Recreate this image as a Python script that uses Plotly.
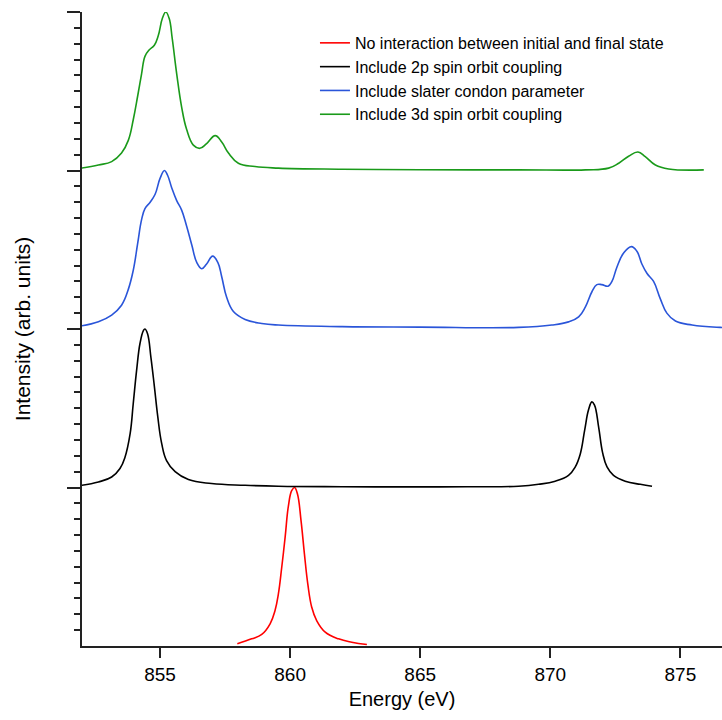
import plotly.graph_objects as go

# ---- data (energy in eV, intensity relative to each curve's own baseline) ----
names = [
    "No interaction between initial and final state",
    "Include 2p spin orbit coupling",
    "Include slater condon parameter",
    "Include 3d spin orbit coupling",
]
offsets = [0, 1, 2, 3]
colors = ["#ff0000", "#000000", "#2a55d9", "#1a9a1a"]

red_e = [857.97, 858.52, 858.91, 859.23, 859.42, 859.55, 859.68, 859.81, 859.93, 860.06, 860.17,
         860.28, 860.42, 860.55, 860.68, 860.83, 861.02, 861.35, 861.86, 862.37, 862.95]
red_i = [0.014, 0.045, 0.073, 0.14, 0.224, 0.33, 0.50, 0.69, 0.88, 0.98, 1.0,
         0.96, 0.79, 0.58, 0.39, 0.245, 0.16, 0.087, 0.045, 0.024, 0.01]

black_e = [851.98, 852.63, 853.14, 853.46, 853.65, 853.85, 853.97, 854.10, 854.23, 854.36, 854.42,
           854.52, 854.65, 854.78, 854.91, 855.06, 855.25, 855.58, 856.09, 856.98, 858.27, 859.55,
           862.0, 864.5, 866.8, 868.78, 869.55, 870.19, 870.70, 870.96, 871.15, 871.32, 871.47,
           871.60, 871.70, 871.86, 872.01, 872.18, 872.43, 872.88, 873.46, 873.91]
black_i = [0.014, 0.035, 0.066, 0.12, 0.19, 0.34, 0.53, 0.74, 0.91, 0.99, 1.0,
           0.97, 0.82, 0.64, 0.45, 0.28, 0.17, 0.10, 0.05, 0.025, 0.014, 0.008,
           0.005, 0.004, 0.005, 0.008, 0.02, 0.04, 0.077, 0.13, 0.21, 0.36, 0.49,
           0.54, 0.52, 0.38, 0.22, 0.13, 0.077, 0.04, 0.02, 0.008]

blue_e = [851.98, 852.63, 853.14, 853.52, 853.78, 853.97, 854.14, 854.29, 854.42, 854.62, 854.81,
          855.00, 855.17, 855.29, 855.45, 855.64, 855.83, 856.02, 856.22, 856.41, 856.60, 856.79,
          857.02, 857.22, 857.37, 857.56, 857.82, 858.27, 858.91, 859.55, 862.0, 865.0, 868.78,
          870.06, 870.70, 871.09, 871.35, 871.60, 871.79, 871.98, 872.22, 872.37, 872.56, 872.82,
          873.12, 873.33, 873.52, 873.72, 873.97, 874.23, 874.48, 874.81, 875.45, 876.53, 877.0]
blue_i = [0.02, 0.046, 0.088, 0.15, 0.25, 0.37, 0.54, 0.69, 0.76, 0.80, 0.85,
          0.95, 1.0, 0.97, 0.89, 0.81, 0.75, 0.65, 0.53, 0.42, 0.38, 0.41,
          0.46, 0.42, 0.33, 0.20, 0.11, 0.06, 0.035, 0.025, 0.015, 0.012, 0.01,
          0.025, 0.045, 0.077, 0.14, 0.235, 0.28, 0.28, 0.27, 0.30, 0.39, 0.48,
          0.52, 0.49, 0.41, 0.35, 0.30, 0.19, 0.10, 0.05, 0.025, 0.01, 0.008]

green_e = [851.98, 852.63, 853.14, 853.52, 853.78, 853.97, 854.14, 854.29, 854.42, 854.58, 854.78,
           854.93, 855.09, 855.22, 855.35, 855.47, 855.64, 855.83, 856.02, 856.28, 856.53, 856.79,
           857.12, 857.37, 857.63, 858.01, 858.65, 859.55, 862.0, 865.0, 868.78, 871.35, 872.24,
           872.63, 873.01, 873.37, 873.65, 874.04, 874.55, 875.90]
green_i = [0.015, 0.035, 0.056, 0.11, 0.19, 0.32, 0.47, 0.61, 0.72, 0.76, 0.79,
           0.85, 0.96, 1.0, 0.96, 0.83, 0.61, 0.40, 0.26, 0.16, 0.14, 0.17,
           0.22, 0.18, 0.11, 0.046, 0.025, 0.015, 0.008, 0.005, 0.004, 0.004, 0.015,
           0.046, 0.09, 0.117, 0.088, 0.035, 0.01, 0.004]

series_e = [red_e, black_e, blue_e, green_e]
series_i = [red_i, black_i, blue_i, green_i]

x_ticks = [855, 860, 865, 870, 875]
y_major = [1, 2, 3, 4]
y_minor = [round(k * 0.1, 1) for k in range(1, 40) if k % 10 != 0]

fig = go.Figure()
for name, off, col, e, inten in zip(names, offsets, colors, series_e, series_i):
    fig.add_trace(go.Scatter(
        x=e, y=[v + off for v in inten], mode="lines", name=name,
        line=dict(color=col, width=1.6, shape="spline", smoothing=1.2),
    ))

fig.update_layout(
    width=722, height=720,
    margin=dict(l=82, r=0, t=12, b=74),
    paper_bgcolor="white", plot_bgcolor="white",
    font=dict(family="Liberation Sans, Arial, sans-serif", color="#000000"),
    showlegend=True,
    legend=dict(x=0.364, y=0.978, xanchor="left", yanchor="top",
                font=dict(size=16), bgcolor="rgba(0,0,0,0)",
                tracegroupgap=0, itemwidth=30),
)
fig.update_xaxes(
    range=[852, 876.6], showgrid=False, zeroline=False,
    showline=True, linecolor="#222222", linewidth=1.5,
    ticks="outside", ticklen=10, tickwidth=1.5, tickcolor="#222222",
    tickvals=x_ticks, ticktext=[str(v) for v in x_ticks],
    tickfont=dict(size=19),
    title=dict(text="Energy (eV)", font=dict(size=20), standoff=8),
)
fig.update_yaxes(
    range=[0, 4], showgrid=False, zeroline=False,
    showline=True, linecolor="#222222", linewidth=1.5,
    ticks="outside", ticklen=13, tickwidth=1.5, tickcolor="#222222",
    tickvals=y_major, showticklabels=False,
    minor=dict(tickvals=y_minor, ticks="outside", ticklen=6, tickwidth=1.5,
               tickcolor="#222222", showgrid=False),
    title=dict(text="Intensity (arb. units)", font=dict(size=21), standoff=31),
)

fig.write_html("out.html")
